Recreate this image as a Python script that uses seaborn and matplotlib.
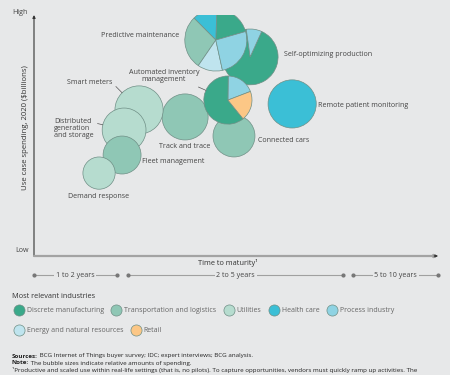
import numpy as np
import pandas as pd
import matplotlib
matplotlib.use("Agg")
import matplotlib.pyplot as plt
import matplotlib.transforms as mtransforms
from matplotlib.patches import Wedge
from matplotlib.lines import Line2D
import seaborn as sns

# --- data -------------------------------------------------------------------
use_cases = ["Predictive maintenance", "Self-optimizing production",
             "Automated inventory\nmanagement", "Connected cars",
             "Remote patient monitoring", "Track and trace", "Smart meters",
             "Distributed\ngeneration\nand storage", "Fleet management",
             "Demand response"]
maturity = [45.0, 53.5, 48.0, 49.5, 63.9, 37.4, 26.0, 22.3, 21.8, 16.1]
spending_level = [89.6, 82.6, 64.7, 49.8, 63.1, 57.7, 60.6, 52.3, 41.9, 34.4]
bubble_spend = [9.6, 7.8, 5.8, 4.4, 5.8, 5.3, 5.8, 4.8, 3.6, 2.6]

industries = ["Discrete manufacturing", "Transportation and logistics", "Utilities",
              "Health care", "Process industry", "Energy and natural resources", "Retail"]
industry_colors = ["#3aa98a", "#8fc7b5", "#b6dccf", "#3bbfd6", "#8fd3e3", "#bfe4ee", "#fcc786"]

# single-industry bubbles
main_industry = {
    "Connected cars": "Transportation and logistics",
    "Remote patient monitoring": "Health care",
    "Track and trace": "Transportation and logistics",
    "Smart meters": "Utilities",
    "Distributed\ngeneration\nand storage": "Utilities",
    "Fleet management": "Transportation and logistics",
    "Demand response": "Utilities",
}
# multi-industry bubbles (shares in %)
pred_maint_ind = ["Discrete manufacturing", "Health care", "Transportation and logistics",
                  "Energy and natural resources", "Process industry"]
pred_maint_share = [20, 13, 28, 13, 26]
self_opt_ind = ["Discrete manufacturing", "Process industry"]
self_opt_share = [91, 9]
auto_inv_ind = ["Process industry", "Discrete manufacturing", "Retail"]
auto_inv_share = [19, 61, 20]

bands = ["1 to 2 years", "2 to 5 years", "5 to 10 years"]
band_start = [0, 23.3, 79.0]
band_end = [20.5, 76.5, 100]

# --- style ------------------------------------------------------------------
BG = "#e7e8e9"
TXT = "#444444"
EDGE = "#6f8f86"
FS = 5.1
sns.set_style("white")
plt.rcParams['font.family'] = ['Open Sans', 'DejaVu Sans']
color_of = dict(zip(industries, industry_colors))

fig = plt.figure(figsize=(4.5, 3.75), dpi=100)
fig.patch.set_facecolor(BG)
ax = fig.add_axes([34 / 450, 1 - 256 / 375, 404 / 450, 241 / 375])
ax.set_facecolor(BG)
ax.set_xlim(0, 100)
ax.set_ylim(0, 100)
for s in ax.spines.values():
    s.set_visible(False)
ax.set_xticks([])
ax.set_yticks([])

R_SCALE = 0.1  # inches of radius per sqrt(spend)

df = pd.DataFrame({"case": use_cases, "x": maturity, "y": spending_level, "spend": bubble_spend})
solid = df[df["case"].isin(main_industry)].copy()
solid["industry"] = solid["case"].map(main_industry)
area = (2 * R_SCALE * 72) ** 2
sns.scatterplot(data=solid, x="x", y="y", hue="industry", palette=color_of,
                size="spend", sizes=(area * solid.spend.min(), area * solid.spend.max()),
                edgecolor=EDGE, linewidth=0.5, alpha=1, legend=False, ax=ax)
ax.set_xlabel("")
ax.set_ylabel("")


def pie_bubble(case, inds, shares, start):
    row = df[df["case"] == case].iloc[0]
    r = R_SCALE * np.sqrt(row.spend)
    trans = fig.dpi_scale_trans + mtransforms.ScaledTranslation(row.x, row.y, ax.transData)
    a = start
    for ind, sh in zip(inds, shares):
        b = a + 360 * sh / sum(shares)
        ax.add_patch(Wedge((0, 0), r, a, b, facecolor=color_of[ind], edgecolor=EDGE,
                           linewidth=0.5, transform=trans))
        a = b


pie_bubble("Self-optimizing production", self_opt_ind, self_opt_share, 98)
pie_bubble("Predictive maintenance", pred_maint_ind, pred_maint_share, 16)
pie_bubble("Automated inventory\nmanagement", auto_inv_ind, auto_inv_share, 21)

# --- labels -----------------------------------------------------------------
# (offset in points, ha, leader relpos or None)
label_layout = {
    "Predictive maintenance": ((-26, 3), "right", None),
    "Self-optimizing production": ((24.5, 1.4), "left", None),
    "Automated inventory\nmanagement": ((-46, 17), "center", (0.85, 0.05)),
    "Connected cars": ((17.3, -2.9), "left", None),
    "Remote patient monitoring": ((18.7, -1.4), "left", None),
    "Track and trace": ((0, -21), "center", None),
    "Smart meters": ((-19.4, 20), "right", (1.02, 0.3)),
    "Distributed\ngeneration\nand storage": ((-22, 1.4), "right", (1.02, 0.75)),
    "Fleet management": ((14.4, -5), "left", None),
    "Demand response": ((0, -16.5), "center", None),
}
for _, row in df.iterrows():
    off, ha, rel = label_layout[row.case]
    r_pts = R_SCALE * np.sqrt(row.spend) * 72
    arrow = None
    if rel is not None:
        arrow = dict(arrowstyle="-", color="#555555", lw=0.5, shrinkA=0.5,
                     shrinkB=r_pts, relpos=rel)
    ma = "left" if row.case.startswith("Distributed") else "center"
    ax.annotate(row.case, xy=(row.x, row.y), xytext=off, textcoords="offset points",
                ha=ha, va="center", fontsize=FS, color=TXT, linespacing=1.0,
                multialignment=ma, arrowprops=arrow, zorder=5)

# axes with arrows
ax.annotate("", xy=(0, 1.0), xytext=(0, 0), xycoords="axes fraction",
            arrowprops=dict(arrowstyle="-|>", lw=0.8, color="#333333", mutation_scale=4,
                            shrinkA=0, shrinkB=0))
ax.annotate("", xy=(1.0, 0), xytext=(0, 0), xycoords="axes fraction",
            arrowprops=dict(arrowstyle="-|>", lw=1.6, color="#a3a3a3", mutation_scale=4,
                            shrinkA=0, shrinkB=0))
ax.annotate("", xy=(1.0, 0), xytext=(0.99, 0), xycoords="axes fraction",
            arrowprops=dict(arrowstyle="-|>", lw=0.6, color="#333333", mutation_scale=4,
                            shrinkA=0, shrinkB=0))

fig.text(12 / 450, 1 - 13 / 375, "High", fontsize=FS, color=TXT, va="center")
fig.text(15 / 450, 1 - 250 / 375, "Low", fontsize=FS, color=TXT, va="center")
fig.text(26 / 450, 1 - 128 / 375, "Use case spending, 2020 ($billions)", rotation=90,
         fontsize=5.6, color="#333333", ha="center", va="center")
ax.text(0.48, -0.03, "Time to maturity\u00b9", transform=ax.transAxes, fontsize=5.3,
        color="#333333", ha="center", va="center")

# maturity bands
tr = ax.get_xaxis_transform()
for lab, a, b in zip(bands, band_start, band_end):
    ax.plot([a, b], [-0.079, -0.079], transform=tr, color="#a0a0a0", lw=0.8,
            clip_on=False, marker="o", markersize=2, markerfacecolor="#777777",
            markeredgecolor="#777777")
    ax.text((a + b) / 2, -0.079, lab, transform=tr, fontsize=FS, color=TXT,
            ha="center", va="center",
            bbox=dict(facecolor=BG, edgecolor="none", pad=1.2))

# --- legend -----------------------------------------------------------------
fig.text(12 / 450, 1 - 296 / 375, "Most relevant industries", fontsize=5.3, color="#333333",
         va="center")


def handles(names):
    return [Line2D([], [], marker="o", linestyle="none", markersize=8,
                   markerfacecolor=color_of[n], markeredgecolor=EDGE,
                   markeredgewidth=0.5, label=n) for n in names]


leg_kw = dict(frameon=False, fontsize=5.0, handlelength=1.0, handletextpad=0.63,
              columnspacing=1.3, borderpad=0, borderaxespad=0, labelcolor="#666666")
leg1 = fig.legend(handles=handles(industries[:5]), ncol=5, loc="center left",
                  bbox_to_anchor=(15.5 / 450, 1 - 311 / 375), **leg_kw)
leg2 = fig.legend(handles=handles(industries[5:]), ncol=2, loc="center left",
                  bbox_to_anchor=(15.5 / 450, 1 - 331 / 375), **leg_kw)

# --- footer -----------------------------------------------------------------
renderer = fig.canvas.get_renderer()
footer = [("Sources:", " BCG Internet of Things buyer survey; IDC; expert interviews; BCG analysis."),
          ("Note:", " The bubble sizes indicate relative amounts of spending."),
          ("", "\u00b9Productive and scaled use within real-life settings (that is, no pilots). "
               "To capture opportunities, vendors must quickly ramp up activities. The")]
for i, (bold, rest) in enumerate(footer):
    y = 1 - (356 + 7 * i) / 375
    x = 12 / 450
    if bold:
        t = fig.text(x, y, bold, fontsize=4.5, fontweight="bold", color="#222222", va="center")
        bb = t.get_window_extent(renderer)
        x = (bb.x1) / fig.bbox.width
    fig.text(x, y, rest, fontsize=4.5, color="#222222", va="center")

fig.savefig("out.png", dpi=100, facecolor=BG)
